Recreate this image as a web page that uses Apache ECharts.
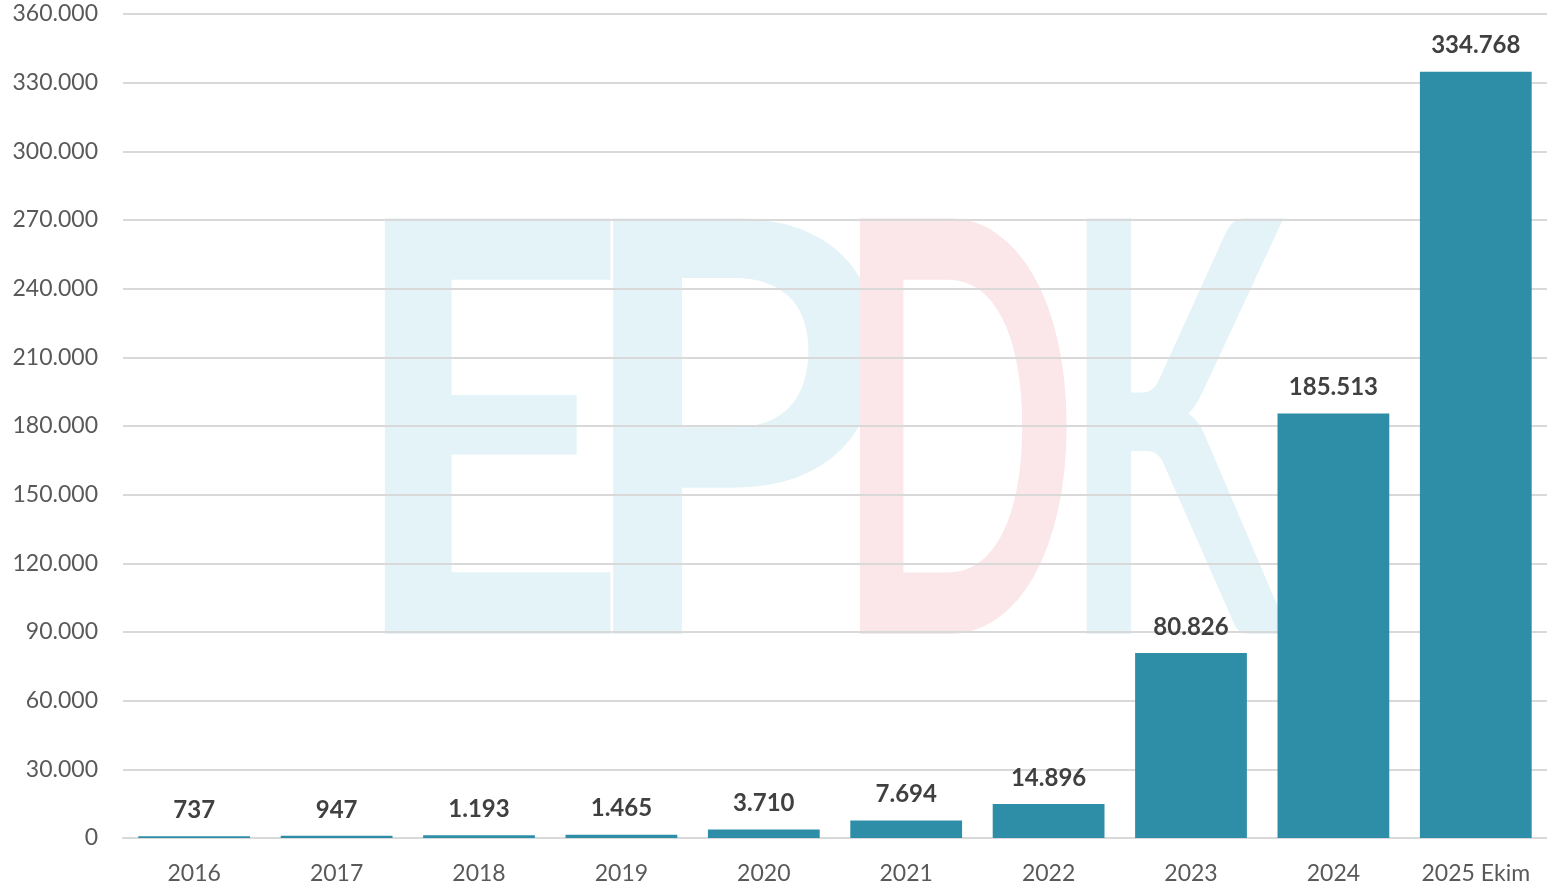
<!DOCTYPE html>
<html><head><meta charset="utf-8">
<script src="https://cdn.jsdelivr.net/npm/echarts@6/dist/echarts.min.js"></script>
<style>html,body{margin:0;padding:0;background:#fff}#c{width:1547px;height:892px}</style>
</head><body><div id="c"></div>
<script>
const categories = ['2016','2017','2018','2019','2020','2021','2022','2023','2024','2025 Ekim'];
const values = [737, 947, 1193, 1465, 3710, 7694, 14896, 80826, 185513, 334768];
const yMin = 0, yMax = 360000, yInterval = 30000;

function fmt(v){ return String(Math.round(v)).replace(/\B(?=(\d{3})+(?!\d))/g, '.'); }

const chart = echarts.init(document.getElementById('c'), null, {renderer:'canvas'});
const wmFont = 'bold 575px Lato';
function wm(ch, x, sx, fill){
  return {type:'text', z:-10, x:x, y:161, scaleX:sx, style:{text:ch, font:wmFont, fill:fill}};
}
chart.setOption({
  animation:false,
  backgroundColor:'#ffffff',
  textStyle:{fontFamily:'Lato'},
  graphic:[
    wm('E', 345, 0.86, '#E4F3F8'),
    wm('P', 572, 0.89, '#E4F3F8'),
    wm('D', 834, 0.56, '#FBE6E9'),
    wm('K', 1060, 0.575, '#E4F3F8')
  ],
  grid:{left:123, right:-2, top:14, bottom:54, containLabel:false},
  xAxis:{
    type:'category', data:categories,
    axisLine:{show:true, lineStyle:{color:'#d9d9d9', width:2}},
    axisTick:{show:false},
    axisLabel:{color:'#595959', fontSize:23, margin:24, fontFamily:'Lato'}
  },
  yAxis:{
    type:'value', min:yMin, max:yMax, interval:yInterval,
    axisLine:{show:false}, axisTick:{show:false},
    splitLine:{lineStyle:{color:'#d9d9d9', width:2}},
    axisLabel:{color:'#595959', fontSize:23, margin:25, fontFamily:'Lato', formatter:fmt}
  },
  series:[{
    type:'bar', data:values, barCategoryGap:'21.5%',
    itemStyle:{color:'#2E8EA8'},
    label:{show:true, position:'top', distance:14, color:'#404040', fontSize:24, fontWeight:'bold', fontFamily:'Lato', formatter:p=>fmt(p.value)}
  }]
});
</script></body></html>
